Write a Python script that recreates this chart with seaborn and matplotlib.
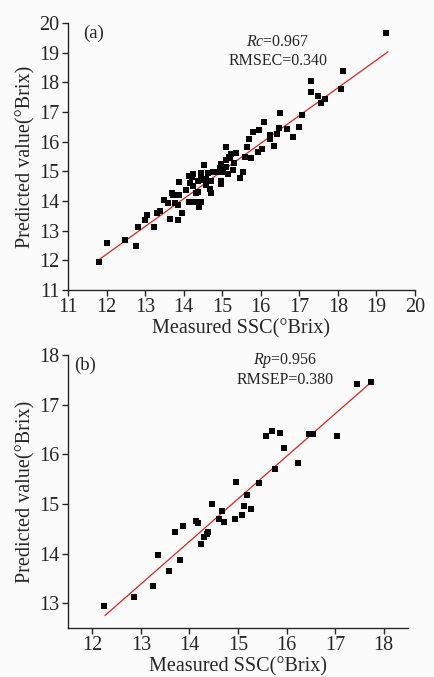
import matplotlib
matplotlib.use("Agg")
import matplotlib.pyplot as plt
import seaborn as sns
import pandas as pd

# calibration set (a)
cal_measured = [19.26, 18.13, 17.31, 17.31, 17.48, 17.67, 17.57, 18.07, 16.49, 17.08,
                16.09, 15.96, 15.80, 16.47, 16.69, 16.98, 16.84, 16.41, 16.25, 16.25,
                16.34, 15.70, 15.63, 16.02, 15.93, 15.74, 15.59, 15.09, 15.24, 15.17,
                15.37, 15.11, 15.31, 14.96, 14.52, 15.09, 15.02, 15.15, 14.87, 14.77,
                14.64, 14.44, 14.25, 14.14, 15.54, 15.46, 14.98, 14.96, 14.72, 14.58,
                14.38, 14.16, 14.25, 13.88, 14.07, 14.32, 14.38, 14.68, 14.70, 14.57,
                14.51, 13.69, 13.88, 13.73, 13.50, 13.60, 13.77, 13.84, 14.14, 14.29,
                14.44, 14.39, 13.38, 13.31, 13.05, 12.99, 13.64, 13.84, 13.96, 12.82,
                13.24, 12.49, 12.00, 12.76, 11.80, 15.20, 15.28, 14.94, 14.22, 14.45]
cal_predicted = [19.65, 18.38, 18.06, 17.69, 17.55, 17.44, 17.30, 17.77, 16.96, 16.90,
                 16.68, 16.40, 16.31, 16.47, 16.43, 16.49, 16.17, 16.25, 16.23, 16.08,
                 15.87, 16.08, 15.83, 15.76, 15.65, 15.44, 15.50, 15.83, 15.59, 15.50,
                 15.61, 15.39, 15.28, 15.25, 15.20, 15.16, 14.99, 14.91, 14.97, 14.97,
                 14.94, 14.94, 14.91, 14.86, 14.97, 14.79, 14.66, 14.58, 14.66, 14.75,
                 14.66, 14.60, 14.49, 14.64, 14.38, 14.27, 14.30, 14.40, 14.27, 14.55,
                 14.71, 14.27, 14.21, 14.19, 14.02, 13.93, 13.95, 13.85, 13.96, 13.96,
                 13.96, 13.81, 13.68, 13.59, 13.54, 13.37, 13.39, 13.37, 13.59, 13.11,
                 13.14, 12.67, 12.60, 12.50, 11.94, 15.45, 15.05, 15.10, 14.80, 14.85]
cal_fit_x = [11.80, 19.30]
cal_fit_y = [12.02, 19.03]

# prediction set (b)
pred_measured = [17.73, 17.44, 15.57, 15.71, 15.86, 16.47, 16.55, 17.04, 15.95, 16.24,
                 15.76, 15.44, 14.95, 15.18, 15.13, 15.26, 15.09, 14.94, 14.47, 14.67,
                 14.61, 14.71, 14.13, 14.18, 14.39, 14.37, 14.30, 14.24, 13.87, 13.70,
                 13.80, 13.58, 13.36, 13.26, 12.86, 12.25]
pred_predicted = [17.46, 17.41, 16.37, 16.47, 16.42, 16.41, 16.41, 16.37, 16.12, 15.82,
                  15.71, 15.42, 15.44, 15.18, 14.95, 14.90, 14.78, 14.70, 15.00, 14.86,
                  14.69, 14.63, 14.66, 14.61, 14.44, 14.39, 14.33, 14.19, 14.55, 14.44,
                  13.86, 13.65, 13.98, 13.35, 13.12, 12.94]
pred_fit_x = [12.26, 17.75]
pred_fit_y = [12.75, 17.46]

sns.set_style("ticks")
plt.rcParams['font.family'] = ['Liberation Serif', 'DejaVu Serif']
plt.rcParams['mathtext.fontset'] = 'custom'
plt.rcParams['mathtext.rm'] = 'Liberation Serif'
plt.rcParams['mathtext.it'] = 'Liberation Serif:italic'

bg = '#fbfbfb'
fig = plt.figure(figsize=(4.34, 6.77), dpi=100, facecolor=bg)
ax_a = fig.add_axes([0.1567, 0.5716, 0.7995, 0.3944])
ax_b = fig.add_axes([0.1567, 0.0724, 0.7834, 0.4032])


def panel(ax, mx, my, fx, fy, xlim, ylim, xticks, yticks, tag, tag_xy, r_txt, rmse_txt, txt_xy):
    ax.set_facecolor(bg)
    sns.lineplot(x=fx, y=fy, ax=ax, color='#e8201c', linewidth=0.9)
    sns.scatterplot(x=mx, y=my, ax=ax, marker='s', s=17, color='black',
                    linewidth=0, zorder=3)
    ax.set_xlim(*xlim)
    ax.set_ylim(*ylim)
    ax.set_xticks(xticks)
    ax.set_yticks(yticks)
    ax.tick_params(labelsize=14.5, length=4, width=1, direction='out', pad=2)
    for s in ['top', 'right']:
        ax.spines[s].set_visible(False)
    for s in ['left', 'bottom']:
        ax.spines[s].set_linewidth(1)
    ax.set_xlabel('Measured SSC(°Brix)', fontsize=14.5, labelpad=1)
    ax.set_ylabel('Predicted value(°Brix)', fontsize=14.5, labelpad=3)
    ax.text(tag_xy[0], tag_xy[1], tag, fontsize=13.5, ha='left', va='center')
    ax.text(txt_xy[0], txt_xy[1], r_txt, fontsize=11.5, ha='center', va='center')
    ax.text(txt_xy[0], txt_xy[2], rmse_txt, fontsize=11.5, ha='center', va='center')


panel(ax_a, cal_measured, cal_predicted, cal_fit_x, cal_fit_y,
      (11, 20), (11, 20), range(11, 21), range(11, 21),
      '(a)', (11.38, 19.66), r'$Rc$=0.967', 'RMSEC=0.340', (16.45, 19.36, 18.72))
panel(ax_b, pred_measured, pred_predicted, pred_fit_x, pred_fit_y,
      (11.5, 18.5), (12.5, 18), range(12, 19), range(13, 19),
      '(b)', (11.62, 17.8), r'$Rp$=0.956', 'RMSEP=0.380', (15.97, 17.88, 17.50))

fig.savefig('out.png', dpi=100, facecolor=bg)
